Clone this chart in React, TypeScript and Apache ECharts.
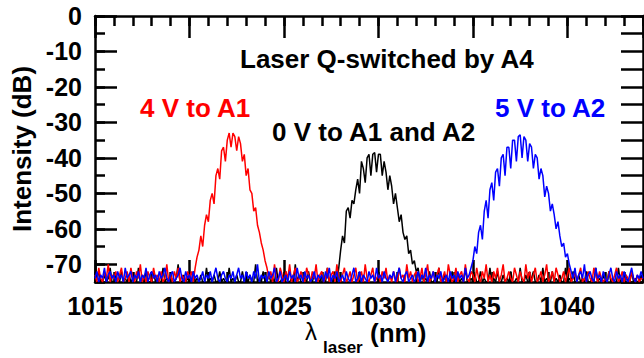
import React, { useEffect, useRef } from "react";
import * as echarts from "echarts";

// Wavelength grid (nm): values are sampled every WL_STEP starting at WL_START
const WL_START = 1015;
const WL_STEP = 0.1;

const xTickLabels = [1015, 1020, 1025, 1030, 1035, 1040];
const yTickLabels = [-70, -60, -50, -40, -30, -20, -10, 0];
const yTickSlots = ["-75", "-70", "-65", "-60", "-55", "-50", "-45", "-40", "-35", "-30", "-25", "-20", "-15", "-10", "-5", "0"];

// 4 V to A1 (red), one row per nm
const redDb = [
  -73, -75, -71, -74, -75, -72, -74, -70, -75, -73,
  -74, -72, -75, -73, -71, -75, -74, -72, -75, -71,
  -74, -75, -72, -74, -70, -75, -73, -75, -72, -74,
  -75, -71, -74, -73, -75, -72, -75, -74, -70, -75,
  -73, -75, -72, -74, -71, -75, -73, -74, -75, -72,
  -74, -72, -75, -71, -68, -66, -62, -65, -59, -56,
  -58, -52, -50, -53, -45, -43, -46, -38, -37, -41,
  -35, -33, -37, -33, -34, -38, -34, -36, -41, -39,
  -45, -43, -49, -50, -55, -54, -59, -61, -64, -66,
  -69, -71, -74, -72, -75, -70, -74, -75, -71, -73,
  -75, -72, -74, -70, -75, -73, -71, -75, -74, -72,
  -74, -75, -71, -73, -75, -72, -74, -70, -75, -73,
  -72, -75, -74, -71, -75, -73, -72, -75, -70, -74,
  -75, -73, -71, -75, -74, -72, -75, -73, -71, -75,
  -74, -72, -75, -70, -74, -75, -73, -71, -75, -74,
  -73, -75, -72, -74, -71, -75, -73, -75, -72, -74,
  -75, -71, -74, -73, -75, -70, -74, -72, -75, -73,
  -72, -75, -74, -71, -75, -73, -70, -75, -74, -72,
  -75, -73, -71, -75, -74, -72, -75, -70, -73, -75,
  -74, -71, -75, -73, -72, -75, -70, -74, -75, -72,
  -73, -75, -71, -74, -75, -72, -74, -70, -75, -73,
  -75, -72, -74, -71, -75, -73, -70, -75, -74, -72,
  -74, -75, -71, -73, -75, -72, -74, -75, -70, -74,
  -72, -75, -73, -71, -75, -74, -72, -75, -73, -70,
  -75, -74, -72, -75, -71, -73, -75, -74, -72, -75,
  -73, -71, -75, -74, -72, -75, -73, -71, -75, -74,
  -75, -72, -74, -75, -71, -73, -75, -72, -74, -75,
  -74, -75, -72, -74, -75, -73, -71, -75, -74, -72,
  -75, -73, -74, -75, -72, -74, -75, -73, -75, -74,
  -74,
];

// 0 V to A1 and A2 (black)
const blackDb = [
  -75, -74, -72, -75, -75, -73, -75, -74, -71, -75,
  -75, -73, -75, -75, -72, -75, -74, -75, -73, -75,
  -74, -75, -75, -71, -75, -74, -75, -72, -75, -75,
  -75, -72, -75, -74, -75, -75, -71, -75, -74, -75,
  -73, -75, -75, -74, -70, -75, -75, -73, -75, -74,
  -75, -75, -72, -75, -74, -75, -73, -75, -75, -71,
  -75, -74, -75, -73, -75, -75, -72, -75, -74, -75,
  -75, -71, -75, -74, -75, -73, -75, -75, -72, -75,
  -74, -75, -73, -75, -75, -70, -75, -74, -75, -72,
  -75, -75, -73, -75, -74, -75, -71, -75, -75, -74,
  -75, -72, -75, -75, -74, -75, -70, -75, -73, -75,
  -75, -74, -75, -72, -75, -75, -73, -75, -74, -75,
  -73, -75, -75, -71, -75, -74, -75, -72, -75, -71,
  -66, -62, -64, -55, -54, -57, -52, -53, -49, -46,
  -50, -41, -43, -47, -40, -39, -45, -39, -38.5, -44,
  -39, -39, -45, -41, -44, -49, -45, -48, -53, -50,
  -54, -58, -56, -61, -63, -62, -67, -66, -70, -69,
  -72, -71, -75, -73, -75, -74, -75, -72, -75, -75,
  -74, -75, -71, -75, -75, -73, -75, -74, -75, -72,
  -75, -75, -73, -75, -74, -75, -71, -75, -75, -74,
  -75, -73, -75, -75, -72, -75, -74, -75, -75, -71,
  -75, -74, -75, -72, -75, -75, -73, -75, -74, -75,
  -72, -75, -75, -74, -75, -71, -75, -75, -73, -75,
  -75, -74, -72, -75, -75, -73, -75, -71, -75, -74,
  -75, -75, -72, -75, -74, -75, -73, -75, -75, -71,
  -75, -74, -75, -72, -75, -75, -73, -75, -74, -75,
  -72, -75, -75, -74, -75, -71, -75, -74, -75, -73,
  -75, -75, -72, -75, -74, -75, -75, -71, -75, -74,
  -75, -73, -75, -75, -72, -75, -74, -75, -75, -73,
  -75,
];

// 5 V to A2 (blue)
const blueDb = [
  -74, -72, -75, -73, -74, -71, -75, -73, -72, -74,
  -73, -75, -72, -74, -73, -75, -71, -74, -73, -72,
  -75, -73, -74, -72, -75, -73, -74, -71, -75, -73,
  -72, -74, -73, -75, -72, -74, -73, -71, -74, -75,
  -73, -72, -75, -74, -73, -71, -74, -75, -72, -74,
  -73, -75, -72, -74, -73, -75, -74, -72, -75, -73,
  -74, -72, -75, -73, -71, -74, -75, -73, -72, -74,
  -75, -73, -74, -72, -75, -73, -71, -74, -73, -75,
  -72, -74, -73, -75, -72, -74, -70, -75, -73, -74,
  -73, -75, -72, -74, -73, -71, -75, -74, -72, -75,
  -74, -73, -75, -72, -74, -73, -75, -71, -74, -73,
  -75, -72, -74, -73, -75, -74, -72, -75, -73, -74,
  -73, -75, -72, -74, -71, -75, -73, -74, -72, -75,
  -74, -73, -75, -72, -74, -75, -73, -71, -75, -74,
  -72, -75, -73, -74, -75, -72, -74, -73, -75, -71,
  -74, -73, -75, -72, -74, -75, -73, -74, -72, -75,
  -73, -71, -74, -75, -73, -72, -75, -74, -73, -75,
  -74, -72, -75, -73, -74, -71, -75, -73, -74, -72,
  -75, -73, -74, -72, -75, -74, -73, -75, -72, -74,
  -73, -75, -72, -74, -73, -75, -71, -74, -73, -71,
  -69, -65, -67, -61, -59, -63, -55, -52, -57, -49,
  -47, -52, -44, -43, -48, -40, -39, -45, -37, -37,
  -43, -35, -35, -41, -34, -33.5, -40, -34, -35, -41,
  -36, -37, -43, -39, -40, -46, -43, -45, -51, -48,
  -50, -55, -53, -56, -60, -58, -62, -65, -64, -68,
  -67, -70, -72, -74, -71, -75, -73, -72, -74, -70,
  -75, -73, -72, -74, -75, -71, -74, -73, -75, -72,
  -74, -75, -73, -71, -74, -75, -72, -74, -73, -75,
  -72, -74, -75, -73, -71, -74, -75, -73, -74, -72,
  -74,
];

const X_MIN = 1015;
const X_MAX = 1044;
const Y_MIN = -75;
const Y_MAX = 0;

const FONT = "'Liberation Sans', Arial, sans-serif";

function toPairs(vals: number[]) {
  return vals.map((v, i) => [Number((WL_START + i * WL_STEP).toFixed(2)), v]);
}

function lineSeries(name: string, vals: number[], color: string) {
  return {
    name,
    type: "line",
    data: toPairs(vals),
    showSymbol: false,
    lineStyle: { color, width: 1.5 },
    itemStyle: { color },
  };
}

function label(text: string, left: number, top: number, color: string, size: number, bold: boolean) {
  return {
    text,
    left,
    top,
    padding: 0,
    textStyle: { color, fontSize: size, fontWeight: bold ? "bold" : "normal", fontFamily: FONT, lineHeight: size },
  };
}

export default function App() {
  const ref = useRef<HTMLDivElement>(null);

  useEffect(() => {
    if (!ref.current) return;
    const chart = echarts.init(ref.current, undefined, { renderer: "svg" });

    const lineOn = { show: true, onZero: false, lineStyle: { color: "#000", width: 2.5 } };
    const lineOff = { show: false, onZero: false };
    const tickStyle = { color: "#000", width: 2.5 };
    const labelStyle = { color: "#000", fontSize: 25, fontWeight: "bold", fontFamily: FONT };

    const xAxisBase = (position: string, interval: number, len: number, showLine: boolean) => ({
      type: "value",
      min: X_MIN,
      max: X_MAX,
      interval,
      position,
      splitLine: { show: false },
      axisLine: showLine ? lineOn : lineOff,
      axisTick: { show: true, inside: true, length: len, lineStyle: tickStyle },
      axisLabel: { show: false },
    });

    chart.setOption({
      animation: false,
      title: [
        label("Laser Q-switched by A4", 240, 46, "#000", 26, true),
        label("4 V to A1", 140, 95, "#ff0000", 26, true),
        label("0 V to A1 and A2", 272, 119, "#000", 26, true),
        label("5 V to A2", 495, 95, "#0000ff", 26, true),
        label("λ", 305, 319, "#000", 24, false),
        label("laser", 323, 339, "#000", 17, true),
        label("(nm)", 370, 320, "#000", 26, true),
      ],
      grid: { left: 95, right: 1, top: 16, bottom: 76 },
      xAxis: [
        {
          ...xAxisBase("bottom", 5, 22, true),
          axisLabel: { ...labelStyle, margin: 11, customValues: xTickLabels, formatter: (v: number) => String(v) },
        },
        xAxisBase("bottom", 1, 10, false),
        xAxisBase("top", 5, 22, true),
        xAxisBase("top", 1, 10, false),
      ],
      yAxis: [
        {
          type: "value", min: Y_MIN, max: Y_MAX, interval: 5, position: "left",
          name: "Intensity (dB)", nameLocation: "middle", nameRotate: 90, nameGap: 57,
          nameTextStyle: { color: "#000", fontSize: 26, fontWeight: "bold", fontFamily: FONT },
          splitLine: { show: false }, axisLine: lineOn,
          axisTick: { show: true, inside: true, length: 10, lineStyle: tickStyle },
          axisLabel: { ...labelStyle, margin: 13, customValues: yTickLabels, formatter: (v: number) => String(v) },
        },
        {
          type: "category", data: yTickSlots, boundaryGap: false, position: "left",
          splitLine: { show: false }, axisLine: lineOff,
          axisTick: {
            show: true, inside: true, length: 22, lineStyle: tickStyle,
            interval: (_i: number, v: string) => Number(v) % 10 === 0,
          },
          axisLabel: { show: false },
        },
        {
          type: "value", min: Y_MIN, max: Y_MAX, interval: 5, position: "right",
          splitLine: { show: false }, axisLine: lineOn,
          axisTick: { show: true, inside: true, length: 22, lineStyle: tickStyle },
          axisLabel: { show: false },
        },
      ],
      series: [
        lineSeries("0 V to A1 and A2", blackDb, "#000000"),
        lineSeries("4 V to A1", redDb, "#ff0000"),
        lineSeries("5 V to A2", blueDb, "#0000ff"),
      ],
    });

    return () => {
      chart.dispose();
    };
  }, []);

  return (
    <div
      ref={ref}
      style={{ position: "fixed", left: 0, top: 0, width: 644, height: 358, background: "#fff" }}
    />
  );
}
